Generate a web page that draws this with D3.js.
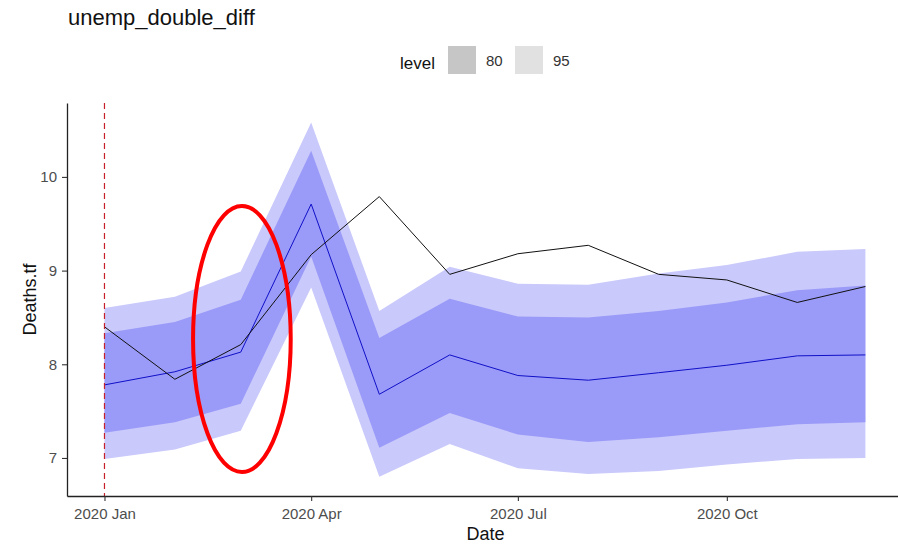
<!DOCTYPE html>
<html lang="en">

<head>
  <meta charset="UTF-8">
  <title>unemp_double_diff</title>
  <script src="https://cdn.jsdelivr.net/npm/d3@7"></script>
  <style>
    body { margin: 0; background: #fff; }
    text { font-family: "Liberation Sans", Arial, sans-serif; }
  </style>
</head>

<body>
<script>
// monthly forecast, Jan..Dec 2020
let months = ['2020-01-01', '2020-02-01', '2020-03-01', '2020-04-01', '2020-05-01', '2020-06-01',
  '2020-07-01', '2020-08-01', '2020-09-01', '2020-10-01', '2020-11-01', '2020-12-01'];
let actual = [8.40, 7.84, 8.21, 9.17, 9.79, 8.96, 9.18, 9.27, 8.96, 8.90, 8.66, 8.83];
let fcMean = [7.78, 7.92, 8.13, 9.71, 7.68, 8.10, 7.88, 7.83, 7.91, 7.99, 8.09, 8.10];
let lo80 = [7.27, 7.38, 7.58, 9.15, 7.11, 7.48, 7.25, 7.17, 7.22, 7.29, 7.36, 7.38];
let hi80 = [8.33, 8.45, 8.69, 10.28, 8.28, 8.70, 8.51, 8.50, 8.57, 8.66, 8.79, 8.84];
let lo95 = [6.99, 7.09, 7.29, 8.82, 6.80, 7.15, 6.89, 6.83, 6.86, 6.93, 6.99, 7.00];
let hi95 = [8.60, 8.72, 8.99, 10.58, 8.57, 9.04, 8.86, 8.85, 8.97, 9.06, 9.20, 9.23];

let yTicks = [7, 8, 9, 10];
let xTicks = ['2020-01-01', '2020-04-01', '2020-07-01', '2020-10-01'];
let levels = ['80', '95'];
let forecastStart = '2020-01-01';
// hand drawn ellipse around March
let markFrom = '2020-02-09', markTo = '2020-03-23', markLow = 6.85, markHigh = 9.69;

let width = 898, height = 546;
let margins = {top: 103, left: 67, right: -6, bottom: 50};
let parse = d3.utcParse('%Y-%m-%d');

let rows = months.map(function (m, i) {
  return {date: parse(m), actual: actual[i], mean: fcMean[i],
    lo80: lo80[i], hi80: hi80[i], lo95: lo95[i], hi95: hi95[i]};
});

let x = d3.scaleUtc()
  .domain([new Date(Date.UTC(2019, 11, 15, 12)), new Date(Date.UTC(2020, 11, 18))])
  .range([margins.left, width - margins.right]);
let y = d3.scaleLinear()
  .domain([6.594, 10.789])
  .range([height - margins.bottom, margins.top]);

let svg = d3.select('body').append('svg')
  .attr('width', width)
  .attr('height', height);

let bandColors = {'95': '#c9c9fb', '80': '#9a9af8'};
let bands = [['95', 'lo95', 'hi95'], ['80', 'lo80', 'hi80']];
bands.forEach(function (b) {
  svg.append('path')
    .datum(rows)
    .attr('fill', bandColors[b[0]])
    .attr('d', d3.area()
      .x(function (d) { return x(d.date); })
      .y0(function (d) { return y(d[b[1]]); })
      .y1(function (d) { return y(d[b[2]]); }));
});

svg.append('path')
  .datum(rows)
  .attr('fill', 'none')
  .attr('stroke', '#1010c8')
  .attr('stroke-width', 1)
  .attr('d', d3.line()
    .x(function (d) { return x(d.date); })
    .y(function (d) { return y(d.mean); }));

svg.append('path')
  .datum(rows)
  .attr('fill', 'none')
  .attr('stroke', '#111')
  .attr('stroke-width', 1)
  .attr('d', d3.line()
    .x(function (d) { return x(d.date); })
    .y(function (d) { return y(d.actual); }));

let vx = x(parse(forecastStart));
svg.append('line')
  .attr('x1', vx)
  .attr('x2', vx)
  .attr('y1', y.range()[1])
  .attr('y2', y.range()[0])
  .attr('stroke', '#c8202a')
  .attr('stroke-width', 1.2)
  .attr('stroke-dasharray', '6,4');

// axes
let xAxis = d3.axisBottom(x)
  .tickValues(xTicks.map(parse))
  .tickFormat(d3.utcFormat('%Y %b'))
  .tickSize(5)
  .tickSizeOuter(0)
  .tickPadding(7);
let yAxis = d3.axisLeft(y)
  .tickValues(yTicks)
  .tickFormat(d3.format('d'))
  .tickSize(5)
  .tickSizeOuter(0)
  .tickPadding(5);

let gx = svg.append('g')
  .attr('transform', 'translate(0,' + y.range()[0] + ')')
  .call(xAxis);
let gy = svg.append('g')
  .attr('transform', 'translate(' + margins.left + ',0)')
  .call(yAxis);

[gx, gy].forEach(function (g) {
  g.select('.domain').attr('stroke', '#222').attr('stroke-width', 1.3);
  g.selectAll('.tick line').attr('stroke', '#333').attr('stroke-width', 1.1);
  g.selectAll('.tick text')
    .attr('fill', '#4d4d4d')
    .style('font-size', '15px')
    .style('font-family', '"Liberation Sans", Arial, sans-serif');
});

// titles
svg.append('text')
  .attr('x', 68)
  .attr('y', 25)
  .style('font-size', '22px')
  .attr('fill', '#111')
  .text('unemp_double_diff');

svg.append('text')
  .attr('x', (x.range()[0] + x.range()[1]) / 2)
  .attr('y', 540)
  .attr('text-anchor', 'middle')
  .style('font-size', '18px')
  .attr('fill', '#111')
  .text('Date');

svg.append('text')
  .attr('transform', 'translate(36,' + (y.range()[0] + y.range()[1]) / 2 + ') rotate(-90)')
  .attr('text-anchor', 'middle')
  .style('font-size', '18px')
  .attr('fill', '#111')
  .text('Deaths.tf');

// legend
let legend = svg.append('g');
legend.append('text')
  .attr('x', 400)
  .attr('y', 69)
  .style('font-size', '17px')
  .attr('fill', '#111')
  .text('level');
let legendFill = {'80': '#c6c6c6', '95': '#e1e1e1'};
levels.forEach(function (lv, i) {
  legend.append('rect')
    .attr('x', 448 + i * 67)
    .attr('y', 46)
    .attr('width', 28)
    .attr('height', 28)
    .attr('fill', legendFill[lv]);
  legend.append('text')
    .attr('x', 486 + i * 67)
    .attr('y', 66)
    .style('font-size', '15px')
    .attr('fill', '#333')
    .text(lv);
});

// red annotation ellipse
let ex0 = x(parse(markFrom)), ex1 = x(parse(markTo));
svg.append('ellipse')
  .attr('cx', (ex0 + ex1) / 2)
  .attr('cy', (y(markLow) + y(markHigh)) / 2)
  .attr('rx', (ex1 - ex0) / 2)
  .attr('ry', (y(markLow) - y(markHigh)) / 2)
  .attr('fill', 'none')
  .attr('stroke', '#ff0000')
  .attr('stroke-width', 4);
</script>
</body>

</html>
